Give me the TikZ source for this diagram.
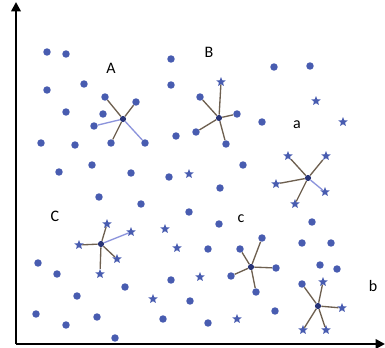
\documentclass[tikz,border=0pt]{standalone}
\usepackage{fontspec}
\setmainfont{Carlito}
\usetikzlibrary{shapes.geometric,arrows.meta}

\definecolor{dotblue}{RGB}{72,92,176}
\definecolor{ctrblue}{RGB}{40,52,120}
\definecolor{linkbrown}{RGB}{110,96,80}
\definecolor{linkblue}{RGB}{140,148,220}

\tikzset{
  pt/.style={circle,fill=dotblue,inner sep=0pt,minimum size=5.6pt},
  st/.style={star,star points=5,star point ratio=2.3,fill=dotblue,inner sep=0pt,minimum size=7.4pt},
  ctr/.style={circle,fill=ctrblue,inner sep=0pt,minimum size=4.6pt},
  lnk/.style={draw=linkbrown,line width=1pt},
  lnkb/.style={draw=linkblue,line width=1pt},
  lbl/.style={font=\fontsize{12}{13}\selectfont,inner sep=0pt},
  axis/.style={line width=2.2pt,-{Triangle[length=7pt,width=7pt]}}
}

\begin{document}
\begin{tikzpicture}[x=0.75pt,y=0.75pt,yscale=-1,xscale=1]
\useasboundingbox (0,0) rectangle (385,348);
%Axes
\coordinate (O) at (16,344);
\coordinate (ytop) at (16,2);
\coordinate (xend) at (385,344);
\draw [axis] (O) -- (ytop);
\draw [axis] (O) -- (xend);
%Loose points
\foreach \px/\py [count=\i] in {47/52,66/54,171/59,274/67,310/66,47/90,84/84,171/85,66/112,
  103/114,262/122,41/143,75/145,176/136,59/172,92/165,131/173,169/177,243/165,99/197,
  141/204,189/212,220/188,219/224,208/249,312/222,302/243,331/243,320/265,337/269,
  38/263,57/274,171/280,125/287,77/296,190/301,36/314,97/317,163/319,66/325,115/338,
  275/311,208/323}
  \node [pt] (p\i) at (\px,\py) {};
%Loose stars
\foreach \px/\py [count=\i] in {316/101,343/122,189/174,165/229,177/248,200/277,153/299,237/319}
  \node [st] (s\i) at (\px,\py) {};
%Cluster A
\node [ctr] (Ac) at (123,119) {};
\node [pt] (A1) at (105,97) {};
\node [pt] (A2) at (136,102) {};
\node [pt] (A3) at (94,126) {};
\node [pt] (A4) at (111,143) {};
\node [pt] (A5) at (145,143) {};
\draw [lnk] (Ac) -- (A1);
\draw [lnk] (Ac) -- (A2);
\draw [lnkb] (Ac) -- (A3);
\draw [lnk] (Ac) -- (A4);
\draw [lnkb] (Ac) -- (A5);
%Cluster B
\node [ctr] (Bc) at (219,118) {};
\node [st] (B1) at (221,82) {};
\node [pt] (B2) at (200,97) {};
\node [pt] (B3) at (237,114) {};
\node [pt] (B4) at (196,132) {};
\node [pt] (B5) at (226,144) {};
\foreach \j in {1,...,5}
  \draw [lnk] (Bc) -- (B\j);
%Cluster a
\node [ctr] (ac) at (308,178) {};
\node [st] (a1) at (288,156) {};
\node [st] (a2) at (326,156) {};
\node [st] (a3) at (276,184) {};
\node [st] (a4) at (295,204) {};
\node [st] (a5) at (325,192) {};
\foreach \j in {1,...,4}
  \draw [lnk] (ac) -- (a\j);
\draw [lnkb] (ac) -- (a5);
%Cluster C
\node [ctr] (Cc) at (101,244) {};
\node [st] (C1) at (107,224) {};
\node [st] (C2) at (131,232) {};
\node [st] (C3) at (79,245) {};
\node [st] (C4) at (117,259) {};
\node [st] (C5) at (100,274) {};
\draw [lnk] (Cc) -- (C1);
\draw [lnkb] (Cc) -- (C2);
\foreach \j in {3,4,5}
  \draw [lnk] (Cc) -- (C\j);
%Cluster c
\node [ctr] (cc) at (251,267) {};
\node [pt] (c1) at (262,238) {};
\node [pt] (c2) at (240,249) {};
\node [pt] (c3) at (276,268) {};
\node [pt] (c4) at (231,276) {};
\node [pt] (c5) at (256,292) {};
\foreach \j in {1,...,5}
  \draw [lnk] (cc) -- (c\j);
%Cluster b
\node [ctr] (bc) at (318,306) {};
\node [pt] (b1) at (302,284) {};
\node [st] (b2) at (323,282) {};
\node [st] (b3) at (342,308) {};
\node [st] (b4) at (303,330) {};
\node [st] (b5) at (326,330) {};
\foreach \j in {1,...,5}
  \draw [lnk] (bc) -- (b\j);
% Text Node
\node [lbl] (labA) at (111,68) {A};
\node [lbl] (labB) at (209,52) {B};
\node [lbl] (laba) at (297,125) {a};
\node [lbl] (labC) at (55,216) {C};
\node [lbl] (labc) at (241,219) {c};
\node [lbl] (labb) at (373,286) {b};
\end{tikzpicture}
\end{document}
